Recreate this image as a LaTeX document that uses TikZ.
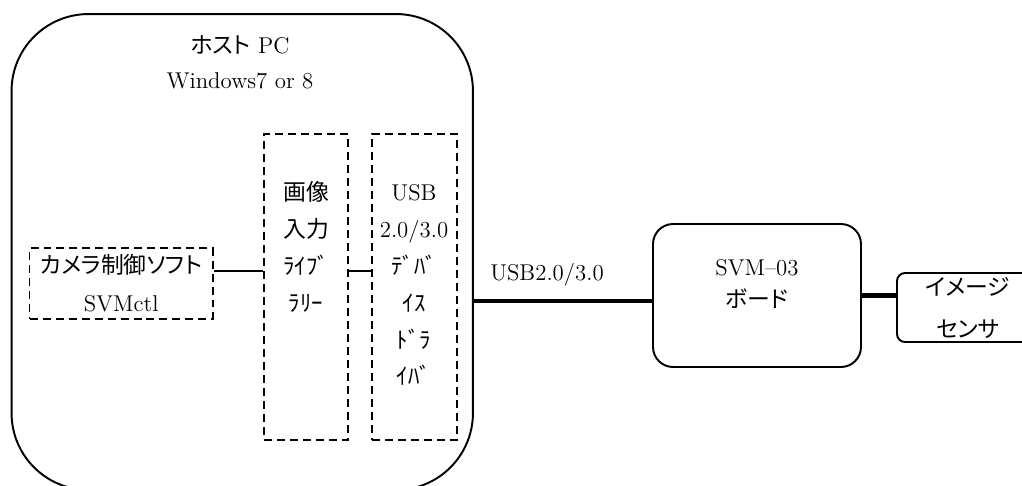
\documentclass[tikz,border=0pt]{standalone}
\usepackage{fontspec}
\newfontfamily\jpfont[RawFeature=+palt]{Noto Sans CJK JP}
\newcommand{\jp}[1]{{\jpfont #1}}
\usetikzlibrary{positioning}

\begin{document}
\begin{tikzpicture}[
    x=0.02cm, y=-0.02cm,
    line width=1.1pt,
    every node/.style={font=\fontsize{13}{21}\selectfont, align=center, inner sep=0pt},
    hostbox/.style={draw, rounded corners=1.54cm, minimum width=9.23cm, minimum height=9.52cm},
    dashbox/.style={draw, dash pattern=on 0.16cm off 0.1cm},
    usbline/.style={line width=2.3pt}
]
\useasboundingbox (0,0) rectangle (1022,485);

\node (host) [hostbox] at (242.25,252) {};
\node (hosttitle) at (240,62) {\jp{ホスト} PC\\[-1.1pt]Windows7 or 8};

\node (cam) [dashbox, minimum width=3.67cm, minimum height=1.42cm] at (121.25,283.5) {\jp{カメラ制御ソフト}\\[0.6pt]SVMctl};
\node (lib) [dashbox, minimum width=1.68cm, minimum height=6.12cm] at (306,287) {};
\node (drv) [dashbox, minimum width=1.70cm, minimum height=6.12cm] at (414.5,287) {};
\node (libtext) at (306,247) {\jp{画像}\\\jp{入力}\\\jp{ﾗｲﾌﾞ}\\\jp{ﾗﾘｰ}};
\node (drvtext) at (414,285) {USB\\2.0/3.0\\\jp{ﾃﾞﾊﾞ}\\\jp{ｲｽ}\\\jp{ﾄﾞﾗ}\\\jp{ｲﾊﾞ}};

\node (svm) [draw, rounded corners=0.4cm, minimum width=4.16cm, minimum height=2.86cm] at (757,295.5) {};
\node (svmtext) at (757,284) {SVM--03\\[-2.8pt]\jp{ボード}};
\node (sensor) [draw, rounded corners=0.16cm, minimum width=2.84cm, minimum height=1.38cm] at (968,307.5) {\jp{イメージ}\\[2.9pt]\jp{センサ}};
\node (usblabel) at (547,275) {USB2.0/3.0};

\coordinate (tap) at (240,271);
\coordinate (usb) at (560,301);
\draw (cam.east |- tap) -- (lib.west |- tap);
\draw (lib.east |- tap) -- (drv.west |- tap);
\draw[usbline] (host.east |- usb) -- (svm.west |- usb);
\draw[usbline] (svm.east) -- (svm.east -| sensor.west);

\end{tikzpicture}
\end{document}
